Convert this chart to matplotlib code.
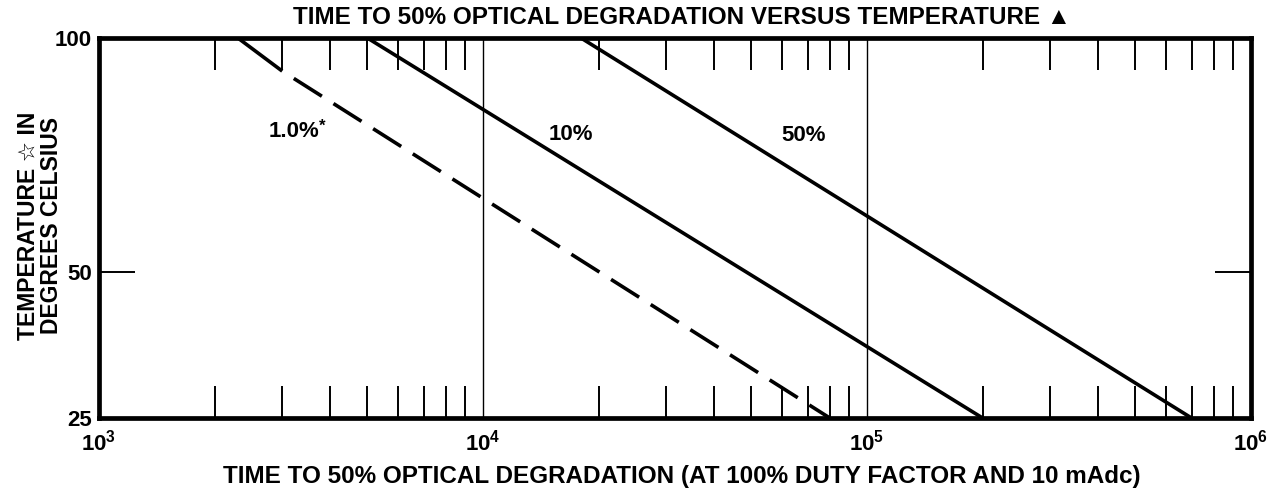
import numpy as np
import matplotlib
matplotlib.use("Agg")
import matplotlib.pyplot as plt
from matplotlib.ticker import FixedLocator, LogLocator, NullFormatter, FixedFormatter

# ─── Data ────────────────────────────────────────────────────────────────────
temp_ends = [100, 25]                 # line ends: top and bottom of the chart

time_50 = [18000, 700000]             # 50 %
time_10 = [5000, 200000]              # 10 %
time_1_solid = [2300, 3000]           # 1.0 % * (short solid piece at the top)
temp_1_solid = [100, 92]
time_1_dash = [3000, 80000]           # 1.0 % * (dashed continuation)
temp_1_dash = [92, 25]

y_ticks = [25, 50, 100]
y_tick_labels = ["25", "50", "100"]
x_ticks = [1e3, 1e4, 1e5, 1e6]
x_tick_labels = [r"$\mathrm{10^{3}}$", r"$\mathrm{10^{4}}$",
                 r"$\mathrm{10^{5}}$", r"$\mathrm{10^{6}}$"]

title = "TIME TO 50% OPTICAL DEGRADATION VERSUS TEMPERATURE \u25B2"
xlabel = "TIME TO 50% OPTICAL DEGRADATION (AT 100% DUTY FACTOR AND 10 mAdc)"
ylabel = "TEMPERATURE \u2606 IN\nDEGREES CELSIUS"

# ─── Style ───────────────────────────────────────────────────────────────────
FONT = ["Liberation Sans", "DejaVu Sans"]
plt.rcParams["font.family"] = FONT
plt.rcParams["font.weight"] = "bold"
plt.rcParams["mathtext.fontset"] = "custom"
plt.rcParams["mathtext.rm"] = "Liberation Sans:bold"
plt.rcParams["mathtext.it"] = "Liberation Sans:bold:italic"
plt.rcParams["mathtext.bf"] = "Liberation Sans:bold"

W, H = 1278, 493
fig = plt.figure(figsize=(W / 100, H / 100), dpi=100)
ax = fig.add_axes([99 / W, (H - 418) / H, (1251 - 99) / W, (418 - 38) / H])

# Arrhenius-type temperature axis (1 / absolute temperature)
def fwd(t):
    return -1.0 / (np.asarray(t, dtype=float) + 273.15)

def inv(u):
    return -1.0 / np.asarray(u, dtype=float) - 273.15

ax.set_xscale("log")
ax.set_yscale("function", functions=(fwd, inv))
ax.set_xlim(1e3, 1e6)
ax.set_ylim(25, 100)

LW = 2.6
ax.plot(time_50, temp_ends, color="black", lw=LW, solid_capstyle="butt")
ax.plot(time_10, temp_ends, color="black", lw=LW, solid_capstyle="butt")
ax.plot(time_1_solid, temp_1_solid, color="black", lw=LW, solid_capstyle="butt")
ax.plot(time_1_dash, temp_1_dash, color="black", lw=LW,
        linestyle=(9.2, (9.2, 3.8)), dash_capstyle="butt")

# ─── Axes, ticks, grid ───────────────────────────────────────────────────────
for s in ax.spines.values():
    s.set_linewidth(3.4)

ax.xaxis.set_major_locator(FixedLocator(x_ticks))
ax.xaxis.set_major_formatter(FixedFormatter(x_tick_labels))
ax.xaxis.set_minor_locator(LogLocator(base=10, subs=np.arange(2, 10)))
ax.xaxis.set_minor_formatter(NullFormatter())
ax.tick_params(axis="x", which="major", length=0, pad=8, labelsize=16)
ax.tick_params(axis="x", which="minor", direction="in", length=23, width=1.4,
               top=True, bottom=True)
ax.grid(True, axis="x", which="major", color="black", lw=1.0)

ax.yaxis.set_major_locator(FixedLocator(y_ticks))
ax.yaxis.set_major_formatter(FixedFormatter(y_tick_labels))
ax.yaxis.set_minor_locator(FixedLocator([]))
ax.tick_params(axis="y", which="major", direction="in", length=26, width=1.4,
               left=True, right=True, pad=5, labelsize=16)

# ─── Curve labels ────────────────────────────────────────────────────────────
ax.text(0.169, 0.753, "1.0%", transform=ax.transAxes, ha="center", va="center",
        fontsize=16)
ax.text(0.194, 0.768, "*", transform=ax.transAxes, ha="center", va="center",
        fontsize=12)
ax.text(0.410, 0.745, "10%", transform=ax.transAxes, ha="center", va="center",
        fontsize=16)
ax.text(0.612, 0.744, "50%", transform=ax.transAxes, ha="center", va="center",
        fontsize=16)

# ─── Titles ──────────────────────────────────────────────────────────────────
fig.text(682 / W, 1 - 17 / H, title, ha="center", va="center", fontsize=17.5)
fig.text(682 / W, 1 - 476 / H, xlabel, ha="center", va="center", fontsize=17.5)
fig.text(40 / W, 1 - 226 / H, ylabel, ha="center", va="center", rotation=90,
         fontsize=16.5, linespacing=1.0, multialignment="center")

fig.savefig("out.png", dpi=100)
